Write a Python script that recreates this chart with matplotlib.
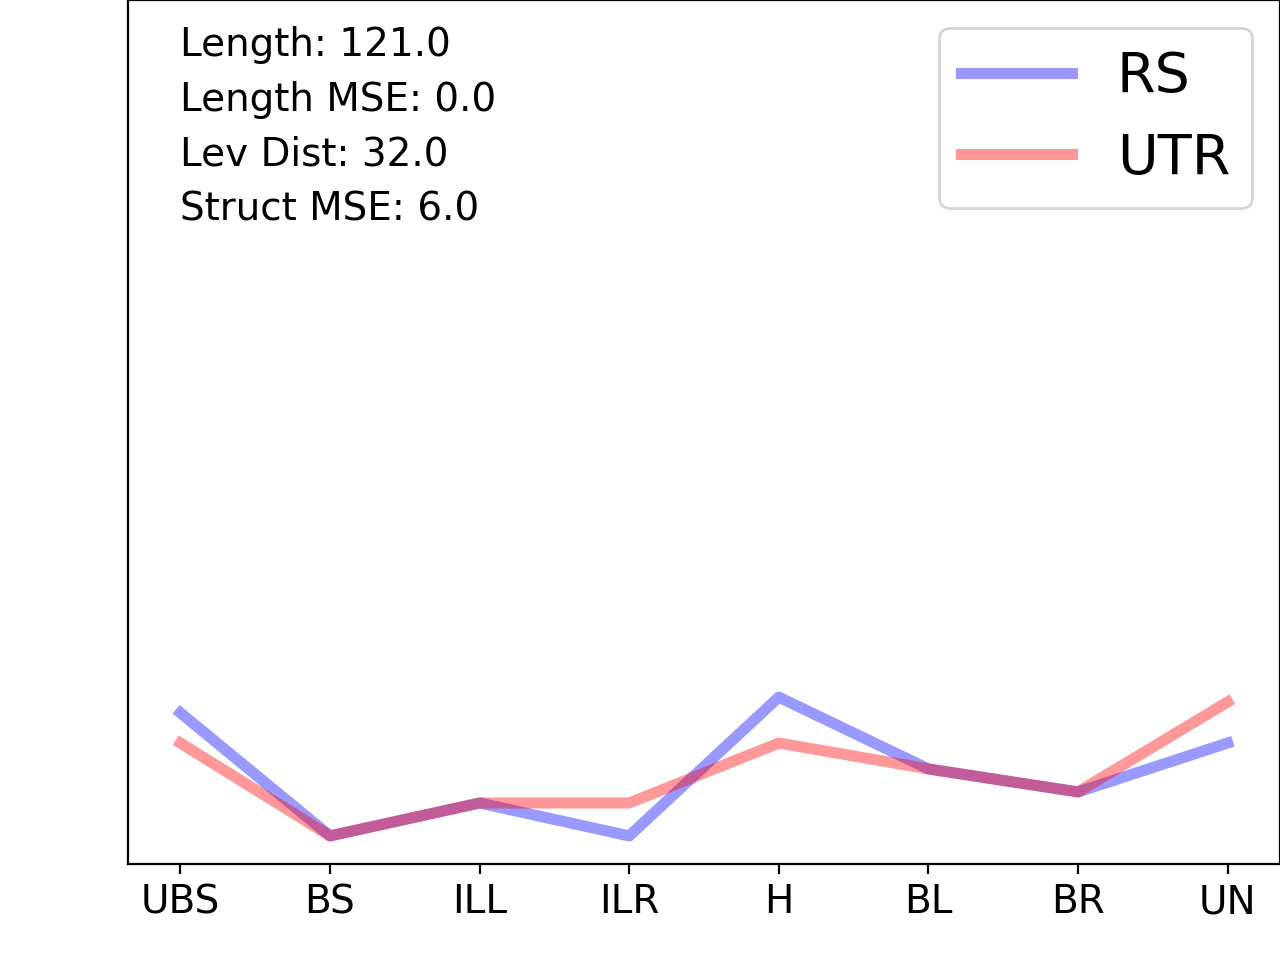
import matplotlib
matplotlib.use("Agg")
import matplotlib.pyplot as plt

categories = ["UBS", "BS", "ILL", "ILR", "H", "BL", "BR", "UN"]
rs_values = [14.0, 2.6, 5.65, 2.6, 15.45, 8.8, 6.67, 11.2]
utr_values = [11.2, 2.6, 5.65, 5.65, 11.2, 8.8, 6.67, 15.0]
info_lines = ["Length: 121.0", "Length MSE: 0.0", "Lev Dist: 32.0", "Struct MSE: 6.0"]

fig = plt.figure(figsize=(6.4, 4.8), dpi=200)
ax = fig.add_axes([0.1, 0.1, 0.9, 0.9])
x = list(range(len(categories)))
ax.plot(x, rs_values, color="b", alpha=0.4, lw=4, label="RS")
ax.plot(x, utr_values, color="r", alpha=0.4, lw=4, label="UTR")
ax.set_ylim(0, 80)
ax.set_yticks([])
ax.set_xticks(x)
ax.set_xticklabels(categories, fontsize=14)
ax.text(0, 0.97, "\n".join(info_lines), transform=ax.get_xaxis_transform(),
        fontsize=14, va="top", ha="left", linespacing=1.565)
ax.legend(fontsize=20, loc="upper right")
fig.savefig("out.png", dpi=200)
